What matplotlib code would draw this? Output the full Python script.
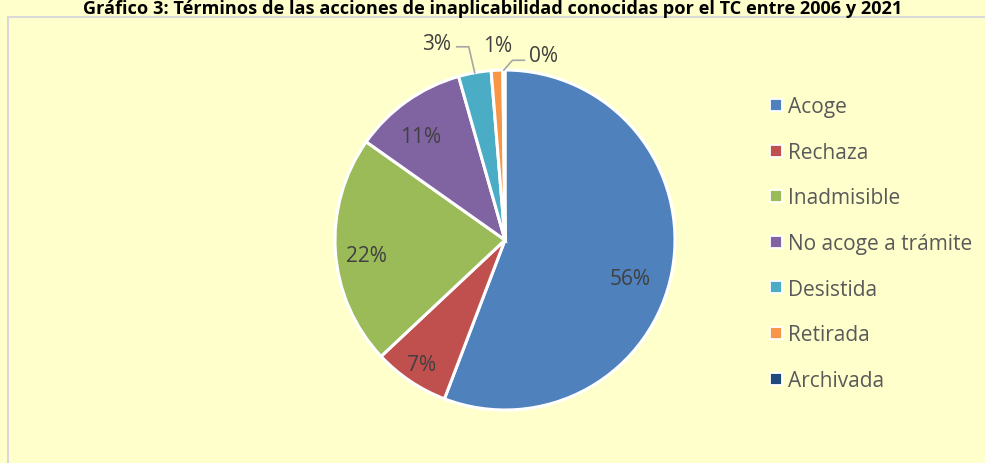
import numpy as np
import matplotlib
matplotlib.use("Agg")
import matplotlib.pyplot as plt
from matplotlib.lines import Line2D
from matplotlib.patches import Rectangle

plt.rcParams['font.family'] = ['Open Sans', 'DejaVu Sans']

# data (share of cases, %)
categorias = ["Acoge", "Rechaza", "Inadmisible", "No acoge a trámite",
              "Desistida", "Retirada", "Archivada"]
valores = [55.8, 7.2, 21.8, 10.8, 3.1, 1.1, 0.2]
colores = ["#4F81BD", "#C0504D", "#9BBB59", "#8064A2",
           "#4BACC6", "#F79646", "#1F497D"]
titulo = ("Gráfico 3: Términos de las acciones de inaplicabilidad "
          "conocidas por el TC entre 2006 y 2021")

W, H = 985, 464
fondo = "#FFFFCC"
fig = plt.figure(figsize=(W / 100, H / 100), dpi=100, facecolor=fondo)

# chart area border
fig.patches.append(Rectangle((8 / W, -0.01), 1.0, 1 - 18 / H + 0.01,
                             transform=fig.transFigure, fill=False,
                             edgecolor="#D9D9D9", linewidth=1.5))

fig.text(493 / W, 1 - 14.5 / H, titulo, ha="center", va="baseline",
         fontsize=13.1, fontweight="bold", color="black")

cx, cy, r = 505, 241, 170
ax = fig.add_axes([(cx - r) / W, (H - cy - r) / H, 2 * r / W, 2 * r / H])

wedges, _ = ax.pie(valores, colors=colores, startangle=90, counterclock=False,
                   radius=1.0, wedgeprops=dict(edgecolor="white", linewidth=2.2))
ax.set_xlim(-1, 1)
ax.set_ylim(-1, 1)
ax.axis("off")

# label placement: (radius, angular nudge in degrees) per slice
pos_etiquetas = [(0.77, -6.5), (0.88, 0), (0.818, 2.4), (0.784, 3.75),
                 (1.225, 9), (1.145, -0.5), (1.11, -12)]
texto_col = "#404040"
for w, v, (rr, nudge) in zip(wedges, valores, pos_etiquetas):
    mid = np.deg2rad((w.theta1 + w.theta2) / 2)
    ang = mid + np.deg2rad(nudge)
    lx, ly = rr * np.cos(ang), rr * np.sin(ang)
    ax.text(lx, ly, f"{v:.0f}%", ha="center", va="center", fontsize=15,
            color=texto_col, clip_on=False)

# leader lines for the small outside labels
for i, side in ((4, 1), (6, -1)):
    w = wedges[i]
    mid = np.deg2rad((w.theta1 + w.theta2) / 2)
    ex, ey = np.cos(mid), np.sin(mid)
    rr, nudge = pos_etiquetas[i]
    ang = mid + np.deg2rad(nudge)
    lx, ly = rr * np.cos(ang), rr * np.sin(ang)
    yl = ly - 0.02 if side == 1 else ly - 0.03
    x_elbow = ex - 0.035 if side == 1 else ex + 0.05
    x_end = lx + 0.12 if side == 1 else lx - 0.11
    ax.plot([ex, x_elbow, x_end], [ey, yl, yl], color="#A6A6A6",
            linewidth=1.2, clip_on=False, solid_joinstyle="miter")

handles = [Line2D([], [], linestyle="none", marker="s", markersize=8,
                  markerfacecolor=c, markeredgecolor="white",
                  markeredgewidth=1.3) for c in colores]
leg = fig.legend(handles, categorias, loc="upper left",
                 bbox_to_anchor=(761 / W, 1 - 89 / H), frameon=False,
                 fontsize=15, labelspacing=1.18, handlelength=0.6,
                 handletextpad=0.3, borderaxespad=0)
for t in leg.get_texts():
    t.set_color("#595959")

fig.savefig("out.png", dpi=100, facecolor=fondo)
